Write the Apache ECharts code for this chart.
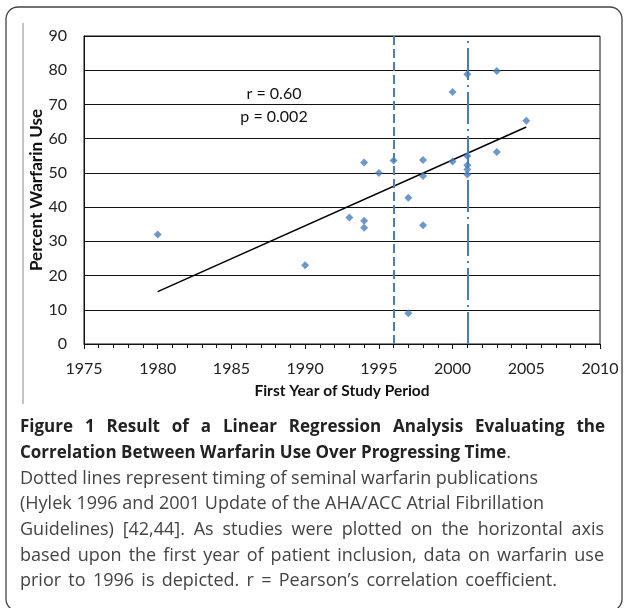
<!DOCTYPE html>
<html>
<head>
<meta charset="utf-8">
<script src="https://cdn.jsdelivr.net/npm/echarts@6/dist/echarts.min.js"></script>
<style>
html,body{margin:0;padding:0;background:#fff;}
#chart{width:624px;height:608px;}
</style>
</head>
<body>
<div id="chart"></div>
<script>
// Study first year (x) and percent warfarin use (y)
const studyYears = [1980, 1990, 1993, 1994, 1994, 1994, 1995, 1996, 1997, 1997, 1998, 1998, 1998, 2000, 2000, 2001, 2001, 2001, 2001, 2001, 2003, 2003, 2005];
const warfarinUse = [32, 23, 37, 36, 34, 53, 50, 53.6, 42.7, 9, 34.7, 53.8, 49.1, 73.6, 53.3, 78.8, 54.9, 52.2, 51, 49.5, 79.8, 56.1, 65.2];
// Regression line end points
const trendYears = [1980, 2005];
const trendValues = [15.3, 63.4];
// Publication years (vertical reference lines)
const publicationYears = [1996, 2001];
// Axis settings
const xTicks = [1975, 1980, 1985, 1990, 1995, 2000, 2005, 2010];
const yTicks = [0, 10, 20, 30, 40, 50, 60, 70, 80, 90];
const annotationLines = ['r = 0.60', 'p = 0.002'];
const captionLines = [
  'Figure 1 Result of a Linear Regression Analysis Evaluating the',
  'Correlation Between Warfarin Use Over Progressing Time',
  'Dotted lines represent timing of seminal warfarin publications',
  '(Hylek 1996 and 2001 Update of the AHA/ACC Atrial Fibrillation',
  'Guidelines) [42,44]. As studies were plotted on the horizontal axis',
  'based upon the first year of patient inclusion, data on warfarin use',
  'prior to 1996 is depicted. r = Pearson\u2019s correlation coefficient.'
];

const blue = '#4a7ebb';
const chartFont = 'Lato, "Open Sans", sans-serif';
const capFont = '"Open Sans", "Noto Sans", sans-serif';
const boldCap = 'bold 17px ' + capFont;
const regCap = '18px ' + capFont;
// right edge each caption line reaches (null = natural width)
const lineRight = [605, null, 538, 544, 604, 604, 557];

const points = studyYears.map((x, i) => [x, warfarinUse[i]]);
const trend = trendYears.map((x, i) => [x, trendValues[i]]);

const chart = echarts.init(document.getElementById('chart'), null, {renderer: 'canvas'});
const mctx = document.createElement('canvas').getContext('2d');
function measure(text, font) { mctx.font = font; return mctx.measureText(text).width; }

const capX = 20, capY0 = 427, capStep = 25.7;
const graphics = [
  {type: 'rect', shape: {x: 6, y: 7, width: 616, height: 604, r: 12}, style: {fill: 'none', stroke: '#444', lineWidth: 1.3}, silent: true},
  {type: 'line', shape: {x1: 23, y1: 23, x2: 23, y2: 404}, style: {stroke: '#888', lineWidth: 1}, silent: true},
  {type: 'text', x: 37, y: 190, rotation: Math.PI / 2, style: {text: 'Percent Warfarin Use', font: 'bold 17px ' + chartFont, fill: '#111', textAlign: 'center', textVerticalAlign: 'middle'}},
  {type: 'text', x: 342, y: 391, style: {text: 'First Year of Study Period', font: 'bold 15.5px ' + chartFont, fill: '#111', textAlign: 'center', textVerticalAlign: 'middle'}},
  {type: 'text', x: 274, y: 94, style: {text: annotationLines[0], font: '16px ' + chartFont, fill: '#111', textAlign: 'center', textVerticalAlign: 'middle'}},
  {type: 'text', x: 274, y: 117, style: {text: annotationLines[1], font: '16px ' + chartFont, fill: '#111', textAlign: 'center', textVerticalAlign: 'middle'}}
];

function pushLine(text, font, fill, y, right) {
  if (right == null) {
    graphics.push({type: 'text', x: capX, y: y, style: {text: text, font: font, fill: fill, textAlign: 'left', textVerticalAlign: 'middle'}});
    return;
  }
  const words = text.split(' ');
  const widths = words.map(w => measure(w, font));
  const total = widths.reduce((a, b) => a + b, 0);
  const gap = (right - capX - total) / (words.length - 1);
  let x = capX;
  words.forEach((w, k) => {
    graphics.push({type: 'text', x: x, y: y, style: {text: w, font: font, fill: fill, textAlign: 'left', textVerticalAlign: 'middle'}});
    x += widths[k] + gap;
  });
}

captionLines.forEach((t, i) => {
  const y = capY0 + i * capStep;
  if (i === 0) {
    pushLine(t, boldCap, '#222', y, lineRight[i]);
  } else if (i === 1) {
    graphics.push({type: 'text', x: capX, y: y, style: {
      text: '{b|' + t + '}{r|.}', textAlign: 'left', textVerticalAlign: 'middle',
      rich: {b: {font: boldCap, fill: '#222'}, r: {font: regCap, fill: '#444'}}
    }});
  } else {
    pushLine(t, regCap, '#444', y, lineRight[i]);
  }
});

const option = {
  animation: false,
  backgroundColor: '#fff',
  grid: {left: 84, right: 24, top: 36, bottom: 264, show: true, borderColor: '#111', borderWidth: 1, containLabel: false},
  xAxis: {
    type: 'value', min: xTicks[0], max: xTicks[xTicks.length - 1], interval: 5,
    axisLine: {show: true, onZero: false, lineStyle: {color: '#111', width: 1}},
    axisTick: {show: true, length: 5, lineStyle: {color: '#111'}},
    minorTick: {show: true, splitNumber: 5, length: 4, lineStyle: {color: '#111'}},
    splitLine: {show: false},
    axisLabel: {color: '#222', fontSize: 16, fontFamily: chartFont, margin: 17, formatter: v => String(v)}
  },
  yAxis: {
    type: 'value', min: yTicks[0], max: yTicks[yTicks.length - 1], interval: 10,
    axisLine: {show: true, lineStyle: {color: '#111', width: 1}},
    axisTick: {show: false},
    splitLine: {show: true, lineStyle: {color: '#111', width: 1}},
    axisLabel: {color: '#222', fontSize: 16, fontFamily: chartFont, margin: 17}
  },
  series: [
    {
      type: 'line', data: trend, symbol: 'none', silent: true, z: 3,
      lineStyle: {color: '#000', width: 1.5}
    },
    {
      type: 'scatter', data: points, symbol: 'diamond', symbolSize: 8, z: 4,
      itemStyle: {color: blue},
      markLine: {
        silent: true, symbol: 'none', label: {show: false},
        data: [
          {xAxis: publicationYears[0], lineStyle: {color: blue, width: 2, type: [9, 4]}},
          {xAxis: publicationYears[1], lineStyle: {color: blue, width: 2, type: [32, 5, 2, 5]}}
        ]
      }
    }
  ],
  graphic: graphics
};
chart.setOption(option);
</script>
</body>
</html>
